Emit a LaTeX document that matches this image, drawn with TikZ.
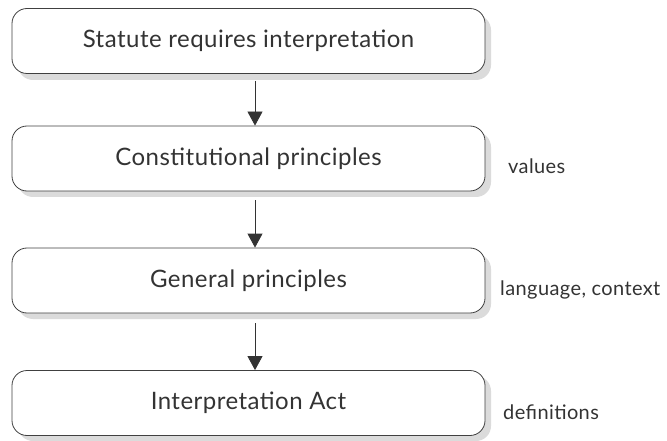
\documentclass[tikz,border=0pt]{standalone}
\usepackage{fontspec}
\setmainfont{Lato}[LetterSpace=2]
\usetikzlibrary{arrows.meta}
\tikzset{
  stepbox/.style={draw=black!75, line width=0.8pt, rounded corners=15pt, fill=white,
    minimum width=473pt, minimum height=65pt, inner sep=0pt,
    font=\fontsize{24}{28}\selectfont\color{black!80}},
  boxshadow/.style={fill=black!14, rounded corners=15pt, draw=none},
  sidelabel/.style={anchor=west, inner sep=0pt, font=\fontsize{20}{24}\selectfont\color{black!80}},
  flow/.style={-{Triangle[length=14pt,width=15pt]}, line width=0.8pt, black!80}
}
\begin{document}
\begin{tikzpicture}[x=1pt,y=-1pt]
\useasboundingbox (0,0) rectangle (667,441);
% shadows
\fill[boxshadow] (18,15) rectangle (491,80);
\fill[boxshadow] (18,132) rectangle (491,197);
\fill[boxshadow] (18,254) rectangle (491,319);
\fill[boxshadow] (18,376) rectangle (491,441);
\node[stepbox] (s1) at (248.5,41) {Statute requires interpretation};
\node[stepbox] (s2) at (248.5,158.5) {Constitutional principles};
\node[stepbox] (s3) at (248.5,280.5) {General principles};
\node[stepbox] (s4) at (248.5,403) {Interpretation Act};
\node[sidelabel] (l2) at (508,166) {values};
\node[sidelabel] (l3) at (500,290) {language, context};
\node[sidelabel] (l4) at (503,412) {definitions};
\draw[flow] (s1.south -| 255,0) ++(0,7) coordinate (a1) -- (a1 |- s2.north);
\draw[flow] (s2.south -| 255,0) ++(0,9) coordinate (a2) -- (a2 |- s3.north);
\draw[flow] (s3.south -| 255,0) ++(0,10) coordinate (a3) -- (a3 |- s4.north);
\end{tikzpicture}
\end{document}
